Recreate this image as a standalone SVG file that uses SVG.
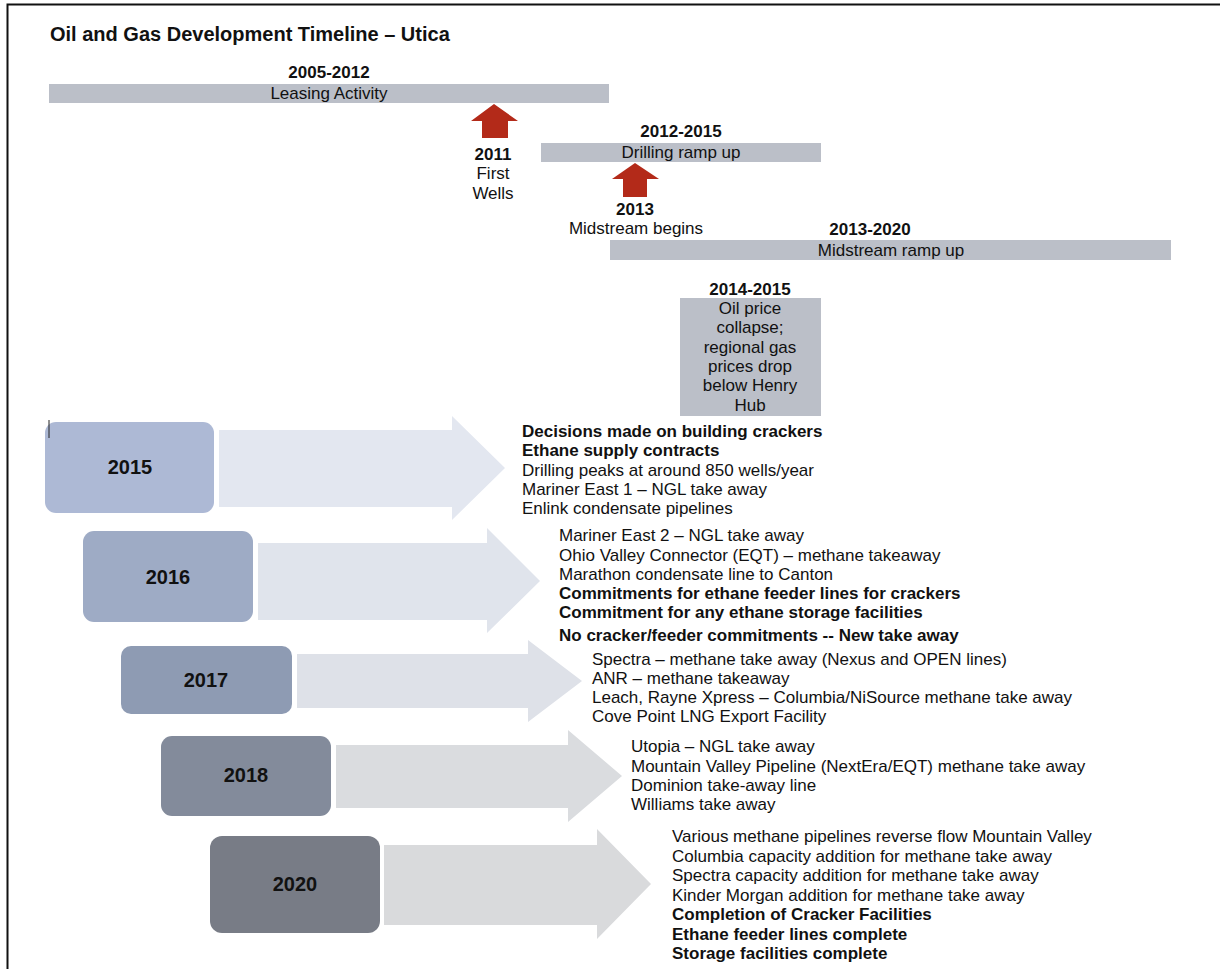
<svg xmlns="http://www.w3.org/2000/svg" width="1220" height="969" viewBox="0 0 1220 969">
<style>
text{font-family:"Liberation Sans",Arial,sans-serif;fill:#111;}
.t{font-size:17px;}
.b{font-size:17px;font-weight:bold;}
.c{text-anchor:middle;}
.yr{font-size:20px;font-weight:bold;text-anchor:middle;}
.bar{fill:#bbbfc8;}
.red{fill:#b32a19;}
</style>
<rect width="1220" height="969" fill="#fff"/>
<path d="M7.5 969 V4.5 H1220" fill="none" stroke="#111" stroke-width="2"/>
<text x="50" y="41" style="font-size:20px;font-weight:bold">Oil and Gas Development Timeline – Utica</text>

<g id="leasing">
<text class="b c" x="329" y="78">2005-2012</text>
<rect class="bar" x="49" y="84" width="560" height="19"/>
<text class="t c" x="329" y="99">Leasing Activity</text>
</g>
<g id="wells2011">
<polygon class="red" points="494,104 518,121 508,121 508,138 482,138 482,121 471,121"/>
<text class="b c" x="493" y="160">2011</text>
<text class="t c" x="493" y="179">First</text>
<text class="t c" x="493" y="199">Wells</text>
</g>
<g id="drilling">
<text class="b c" x="681" y="137">2012-2015</text>
<rect class="bar" x="541" y="143" width="280" height="19"/>
<text class="t c" x="681" y="158">Drilling ramp up</text>
</g>
<g id="midstream2013">
<polygon class="red" points="635,163 659,179 647,179 647,197 623,197 623,179 612,179"/>
<text class="b c" x="635" y="215">2013</text>
<text class="t c" x="636" y="234">Midstream begins</text>
</g>
<g id="midstreamramp">
<text class="b c" x="870" y="235">2013-2020</text>
<rect class="bar" x="610" y="240" width="561" height="20"/>
<text class="t c" x="891" y="256">Midstream ramp up</text>
</g>
<g id="oilprice">
<text class="b c" x="750" y="295">2014-2015</text>
<rect class="bar" x="680" y="298" width="141" height="118"/>
<text class="t c" x="750" y="314">Oil price</text>
<text class="t c" x="750" y="333">collapse;</text>
<text class="t c" x="750" y="353">regional gas</text>
<text class="t c" x="750" y="372">prices drop</text>
<text class="t c" x="750" y="391">below Henry</text>
<text class="t c" x="750" y="411">Hub</text>
</g>

<g id="connectors">
<polygon fill="#e3e7f0" points="219,430 452,430 452,416 505,468 452,520 452,507 219,507"/>
<polygon fill="#e0e4ec" points="258,543 487,543 487,528 540,581 487,633 487,620 258,620"/>
<polygon fill="#dee1e8" points="297,654 528,654 528,640 582,681 528,722 528,708 297,708"/>
<polygon fill="#dadcdf" points="336,745 568,745 568,730 622,776 568,822 568,808 336,808"/>
<polygon fill="#d9dadc" points="384,845 597,845 597,829 651,884 597,939 597,925 384,925"/>
</g>

<g id="y2015">
<rect x="45" y="422" width="169" height="91" rx="11" fill="#adb9d5"/>
<text class="yr" x="130" y="474">2015</text>
<text class="b" x="522" y="437">Decisions made on building crackers</text>
<text class="b" x="522" y="456">Ethane supply contracts</text>
<text class="t" x="522" y="476">Drilling peaks at around 850 wells/year</text>
<text class="t" x="522" y="495">Mariner East 1 – NGL take away</text>
<text class="t" x="522" y="514">Enlink condensate pipelines</text>
</g>
<line x1="49" y1="420" x2="49" y2="438" stroke="#222" stroke-width="1"/>
<g id="y2016">
<rect x="83" y="531" width="170" height="91" rx="11" fill="#9eabc5"/>
<text class="yr" x="168" y="584">2016</text>
<text class="t" x="559" y="541">Mariner East 2 – NGL take away</text>
<text class="t" x="559" y="561">Ohio Valley Connector (EQT) – methane takeaway</text>
<text class="t" x="559" y="580">Marathon condensate line to Canton</text>
<text class="b" x="559" y="599">Commitments for ethane feeder lines for crackers</text>
<text class="b" x="559" y="618">Commitment for any ethane storage facilities</text>
<text class="b" x="559" y="641">No cracker/feeder commitments -- New take away</text>
</g>
<g id="y2017">
<rect x="121" y="646" width="171" height="68" rx="10" fill="#8e9bb3"/>
<text class="yr" x="206" y="687">2017</text>
<text class="t" x="592" y="665">Spectra – methane take away (Nexus and OPEN lines)</text>
<text class="t" x="592" y="684">ANR – methane takeaway</text>
<text class="t" x="592" y="703">Leach, Rayne Xpress – Columbia/NiSource methane take away</text>
<text class="t" x="592" y="722">Cove Point LNG Export Facility</text>
</g>
<g id="y2018">
<rect x="161" y="736" width="170" height="80" rx="11" fill="#838b9b"/>
<text class="yr" x="246" y="782">2018</text>
<text class="t" x="631" y="752">Utopia – NGL take away</text>
<text class="t" x="631" y="772">Mountain Valley Pipeline (NextEra/EQT) methane take away</text>
<text class="t" x="631" y="791">Dominion take-away line</text>
<text class="t" x="631" y="810">Williams take away</text>
</g>
<g id="y2020">
<rect x="210" y="836" width="170" height="97" rx="12" fill="#787c86"/>
<text class="yr" x="295" y="891">2020</text>
<text class="t" x="672" y="842">Various methane pipelines reverse flow Mountain Valley</text>
<text class="t" x="672" y="862">Columbia capacity addition for methane take away</text>
<text class="t" x="672" y="881">Spectra capacity addition for methane take away</text>
<text class="t" x="672" y="901">Kinder Morgan addition for methane take away</text>
<text class="b" x="672" y="920">Completion of Cracker Facilities</text>
<text class="b" x="672" y="940">Ethane feeder lines complete</text>
<text class="b" x="672" y="959">Storage facilities complete</text>
</g>
</svg>
